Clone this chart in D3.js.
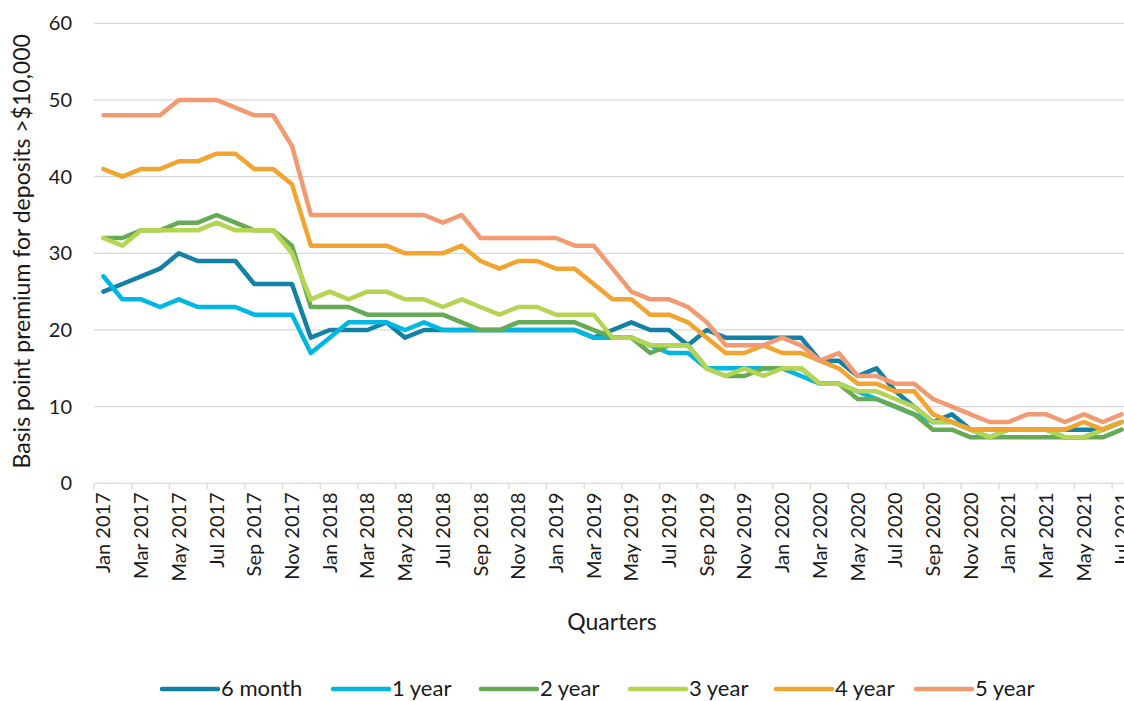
<!DOCTYPE html>
<html>
<head>
<meta charset="utf-8">
<script src="https://cdn.jsdelivr.net/npm/d3@7"></script>
<style>
  html, body { margin: 0; padding: 0; background: #ffffff; }
  svg { display: block; }
  text { font-family: Lato, "Open Sans", sans-serif; fill: #1a1a1a; }
</style>
</head>
<body>
<svg id="chart" width="1124" height="701"></svg>
<script>
// ---------- Data ----------
const monthNames = ["Jan","Feb","Mar","Apr","May","Jun","Jul","Aug","Sep","Oct","Nov","Dec"];
const months = [];
for (let yr = 2017; yr <= 2021; yr++) {
  for (let m = 0; m < 12; m++) {
    if (yr === 2021 && m > 6) break;
    months.push(monthNames[m] + " " + yr);
  }
}
const yTicks = [0, 10, 20, 30, 40, 50, 60];
const seriesNames = ["6 month", "1 year", "2 year", "3 year", "4 year", "5 year"];
const seriesColors = ["#1381a6", "#00b7e3", "#66aa55", "#b6d453", "#f2a431", "#f29a72"];

const sixMonth = [25,26,27,28,30,29,29,29,26,26,26,19,
                  20,20,20,21,19,20,20,20,20,20,20,20,
                  20,20,19,20,21,20,20,18,20,19,19,19,
                  19,19,16,16,14,15,12,10,8,9,7,7,
                  7,7,7,7,7,7,8];
const oneYear = [27,24,24,23,24,23,23,23,22,22,22,17,
                 19,21,21,21,20,21,20,20,20,20,20,20,
                 20,20,19,19,19,18,17,17,15,15,15,15,
                 15,14,13,13,12,11,10,9,8,8,7,6,
                 7,7,7,6,6,7,8];
const twoYear = [32,32,33,33,34,34,35,34,33,33,31,23,
                 23,23,22,22,22,22,22,21,20,20,21,21,
                 21,21,20,19,19,17,18,18,15,14,14,15,
                 15,15,13,13,11,11,10,9,7,7,6,6,
                 6,6,6,6,6,6,7];
const threeYear = [32,31,33,33,33,33,34,33,33,33,30,24,
                   25,24,25,25,24,24,23,24,23,22,23,23,
                   22,22,22,19,19,18,18,18,15,14,15,14,
                   15,15,13,13,12,12,11,10,8,8,7,6,
                   7,7,7,6,6,7,8];
const fourYear = [41,40,41,41,42,42,43,43,41,41,39,31,
                  31,31,31,31,30,30,30,31,29,28,29,29,
                  28,28,26,24,24,22,22,21,19,17,17,18,
                  17,17,16,15,13,13,12,12,9,8,7,7,
                  7,7,7,7,8,7,8];
const fiveYear = [48,48,48,48,50,50,50,49,48,48,44,35,
                  35,35,35,35,35,35,34,35,32,32,32,32,
                  32,31,31,28,25,24,24,23,21,18,18,18,
                  19,18,16,17,14,14,13,13,11,10,9,8,
                  8,9,9,8,9,8,9];
const seriesValues = [sixMonth, oneYear, twoYear, threeYear, fourYear, fiveYear];

// ---------- Layout ----------
const svg = d3.select("#chart");
const plotL = 94, plotR = 1131, plotT = 23.3, plotB = 483.3;

const x = d3.scaleBand().domain(months).range([plotL, plotR]).padding(0);
const y = d3.scaleLinear().domain([0, 60]).range([plotB, plotT]);

// gridlines
svg.append("g")
  .selectAll("line")
  .data(yTicks.filter(d => d > 0))
  .join("line")
  .attr("x1", plotL).attr("x2", 1124)
  .attr("y1", d => y(d)).attr("y2", d => y(d))
  .attr("stroke", "#d9d9d9").attr("stroke-width", 1.3);

// y axis labels
const yAxis = d3.axisLeft(y).tickValues(yTicks).tickSize(0).tickPadding(22);
const gy = svg.append("g").attr("transform", `translate(${plotL},0)`).call(yAxis);
gy.select(".domain").remove();
gy.selectAll("text").style("font-size", "20px").style("font-family", "Lato, sans-serif").attr("fill", "#1a1a1a");

// x axis
const tickMonths = months.filter((d, i) => i % 2 === 0);
const gx = svg.append("g").attr("transform", `translate(0,${plotB})`);
gx.append("line").attr("x1", plotL).attr("x2", 1124).attr("y1", 0).attr("y2", 0)
  .attr("stroke", "#d9d9d9").attr("stroke-width", 1.3);
gx.selectAll("line.tick")
  .data(tickMonths)
  .join("line").attr("class", "tick")
  .attr("x1", d => x(d)).attr("x2", d => x(d))
  .attr("y1", 0).attr("y2", 6)
  .attr("stroke", "#d9d9d9").attr("stroke-width", 1.3);
gx.selectAll("text")
  .data(tickMonths)
  .join("text")
  .attr("transform", d => `translate(${x(d) + x.bandwidth() / 2 + 7},9) rotate(-90)`)
  .attr("text-anchor", "end")
  .style("font-size", "20px")
  .text(d => d);

// lines
const line = d3.line()
  .x((d, i) => x(months[i]) + x.bandwidth() / 2)
  .y(d => y(d));

svg.append("g").selectAll("path")
  .data(seriesValues)
  .join("path")
  .attr("d", d => line(d))
  .attr("fill", "none")
  .attr("stroke", (d, i) => seriesColors[i])
  .attr("stroke-width", 4.5)
  .attr("stroke-linejoin", "round")
  .attr("stroke-linecap", "round");

// axis titles
svg.append("text")
  .attr("transform", `translate(30,${(plotT + plotB) / 2 - 2}) rotate(-90)`)
  .attr("text-anchor", "middle")
  .style("font-size", "23px")
  .text("Basis point premium for deposits >$10,000");

svg.append("text")
  .attr("x", 612).attr("y", 630)
  .attr("text-anchor", "middle")
  .style("font-size", "23px")
  .text("Quarters");

// legend
const legendX = [162, 333, 481, 630, 776, 916];
const lg = svg.append("g");
seriesNames.forEach((name, i) => {
  lg.append("line")
    .attr("x1", legendX[i]).attr("x2", legendX[i] + 56)
    .attr("y1", 689).attr("y2", 689)
    .attr("stroke", seriesColors[i]).attr("stroke-width", 4.5)
    .attr("stroke-linecap", "round");
  lg.append("text")
    .attr("x", legendX[i] + 59).attr("y", 696)
    .style("font-size", "22px")
    .text(name);
});
</script>
</body>
</html>
